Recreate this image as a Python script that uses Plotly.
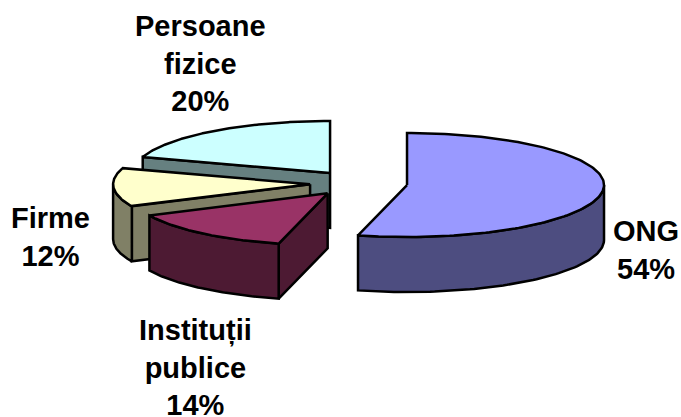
import numpy as np
import plotly.graph_objects as go

categories = ["ONG", "Instituții<br>publice", "Firme", "Persoane<br>fizice"]
values = [54, 14, 12, 20]
top_colors = ["#9999FF", "#993366", "#FFFFCC", "#CCFFFF"]
side_colors = ["#4D4D80", "#4D1A33", "#808066", "#668080"]
label_xy = [(646, 250), (195, 367), (50, 237), (200, 63)]

CX, CY = 358.7, 183.4
RX, RY = 197.0, 52.0
EXPLODE = 48.7
DEPTH = 55.0
W, H = 681, 417

fig = go.Figure()


def poly(xs, ys, fill):
    fig.add_trace(go.Scatter(
        x=np.append(xs, xs[0]), y=np.append(ys, ys[0]),
        mode="lines", fill="toself", fillcolor=fill,
        line=dict(color="black", width=2.5),
        hoverinfo="skip", showlegend=False))


total = sum(values)
edges = np.concatenate([[0], np.cumsum(values)]) / total * 2 * np.pi
order = [3, 2, 1, 0]
for i in order:
    a0, a1 = edges[i], edges[i + 1]
    mid = (a0 + a1) / 2
    ax = CX + EXPLODE * np.sin(mid)
    ay = CY - EXPLODE * np.cos(mid) * RY / RX
    # cut faces
    for a, vis in ((a0, np.sin(a0) < 0), (a1, np.sin(a1) > 0)):
        if vis:
            px, py = ax + RX * np.sin(a), ay - RY * np.cos(a)
            poly(np.array([ax, px, px, ax]), np.array([ay, py, py + DEPTH, ay + DEPTH]), side_colors[i])
    # outer wall
    lo, hi = max(a0, np.pi / 2), min(a1, 3 * np.pi / 2)
    if hi > lo:
        t = np.linspace(lo, hi, 80)
        xs = ax + RX * np.sin(t)
        ys = ay - RY * np.cos(t)
        poly(np.concatenate([xs, xs[::-1]]), np.concatenate([ys, ys[::-1] + DEPTH]), side_colors[i])
    # top face
    t = np.linspace(a0, a1, 160)
    poly(np.concatenate([[ax], ax + RX * np.sin(t)]),
         np.concatenate([[ay], ay - RY * np.cos(t)]), top_colors[i])

annotations = [
    dict(x=x, y=y, text=f"<b>{c}<br>{v}%</b>", showarrow=False, xref="x", yref="y",
         align="center", xanchor="center", yanchor="middle",
         font=dict(family="Liberation Sans", size=29, color="black"))
    for c, v, (x, y) in zip(categories, values, label_xy)
]

fig.update_layout(
    width=W, height=H, margin=dict(l=0, r=0, t=0, b=0),
    paper_bgcolor="white", plot_bgcolor="white",
    xaxis=dict(range=[0, W], visible=False, fixedrange=True),
    yaxis=dict(range=[H, 0], visible=False, fixedrange=True),
    annotations=annotations,
)
fig.write_html("out.html", config=dict(displayModeBar=False),
               post_script="document.body.style.margin='0';document.body.style.overflow='hidden';")
